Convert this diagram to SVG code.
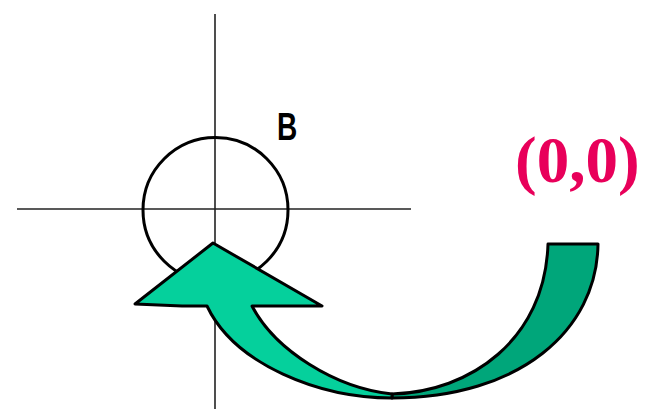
<svg xmlns="http://www.w3.org/2000/svg" width="645" height="409" viewBox="0 0 645 409">
<style>
.axis{stroke:#222;stroke-width:1.6;fill:none}
.arrow{stroke:#000;stroke-width:3;stroke-linejoin:round}
</style>
<rect width="645" height="409" fill="#fff"/>
<g id="axes">
<line class="axis" x1="215" y1="14" x2="215" y2="409"/>
<line class="axis" x1="17" y1="209" x2="411" y2="209"/>
</g>
<g id="circleB">
<circle cx="215.5" cy="210" r="72.5" fill="none" stroke="#000" stroke-width="3"/>
<text transform="translate(277,140) scale(0.72,1)" font-family="Liberation Sans, Arial, sans-serif" font-weight="bold" font-size="39" fill="#000">B</text>
</g>
<g id="origin">
<text x="515" y="182" font-family="Liberation Serif, Times New Roman, serif" font-weight="bold" font-size="65" fill="#e8005a">(0,0)</text>
</g>
<g id="connectors">
<path class="arrow" fill="#00a67a" d="M392,394 C470,392 545,340 548,244 L598,244 C597,330 520,398 392,398 Z"/>
<path class="arrow" fill="#05d09c" d="M213,243 L322,306 L252,306 C275,350 335,388 392,394 L392,398 C320,398 235,365 207,306 L182,306 L135,304 Z"/>
</g>
</svg>
